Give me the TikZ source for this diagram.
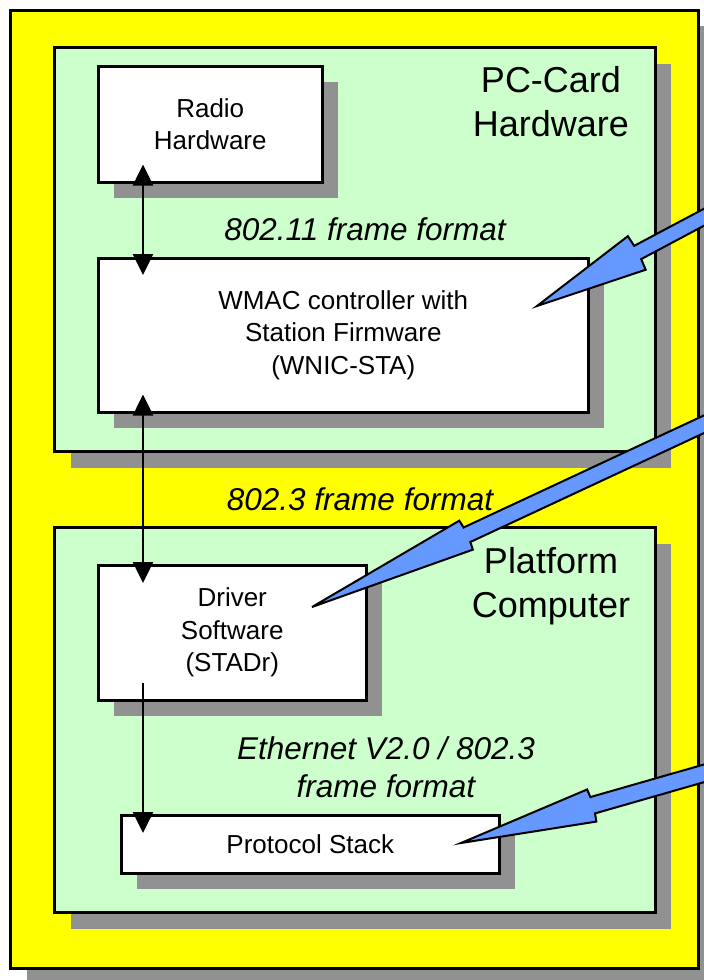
\documentclass[tikz,border=0pt]{standalone}
\usepackage{fontspec}
\setmainfont{Liberation Sans}
\usetikzlibrary{arrows.meta,shadows,calc}

\definecolor{panelyellow}{RGB}{255,255,0}
\definecolor{panelgreen}{RGB}{204,255,204}
\definecolor{shadowgray}{RGB}{145,145,145}
\definecolor{arrowblue}{RGB}{102,153,255}

% Blue block arrow: tip x, tip y, angle, head length, barb half-width, shaft half-width
\newcommand\BlueArrow[6]{%
  \begin{scope}[shift={(#1,#2)},rotate=#3]
    \draw[bluearrow] (0,0) -- (#4,#5) -- (#4+1,#6) -- (520,#6)
      -- (520,-#6) -- (#4+1,-#6) -- (#4,-#5) -- cycle;
  \end{scope}}

\begin{document}
\begin{tikzpicture}[x=1pt,y=-1pt,
  shadowed/.style={drop shadow={shadow xshift=16pt,shadow yshift=-16pt,
      fill=shadowgray,opacity=1}},
  panel/.style={rectangle,draw=black,line width=3pt,inner sep=0pt,
      anchor=north west,shadowed},
  unitbox/.style={rectangle,draw=black,line width=2.5pt,fill=white,inner sep=0pt,
      anchor=north west,align=center,font=\fontsize{26}{32.5}\selectfont,shadowed},
  biglabel/.style={align=center,inner sep=0pt,anchor=base,
      font=\fontsize{36}{43.5}\selectfont},
  framelabel/.style={align=center,inner sep=0pt,anchor=base,
      font=\fontsize{31.5}{38}\selectfont\itshape},
  link/.style={line width=2.5pt,>={Triangle[width=20pt,length=21pt]}},
  bluearrow/.style={draw=black,fill=arrowblue,line width=2pt,line join=miter}]

\useasboundingbox (0,0) rectangle (704,980);

% outer frame
\node[panel,fill=panelyellow,minimum width=688pt,minimum height=958.5pt]
  (outer) at (9,8.5) {};

% PC-Card hardware panel (multi-line labels sit on their last baseline)
\node[panel,fill=panelgreen,minimum width=600.5pt,minimum height=404pt]
  (card) at (53,46) {};
\node[biglabel] (cardlabel) at (551,136) {PC-Card\\Hardware};

% platform computer panel
\node[panel,fill=panelgreen,minimum width=600.5pt,minimum height=385pt]
  (host) at (53,526) {};
\node[biglabel] (hostlabel) at (551,617) {Platform\\Computer};

% functional units
\node[unitbox,minimum width=224pt,minimum height=116pt]
  (radio) at (97,65) {Radio\\Hardware};
\node[unitbox,minimum width=490pt,minimum height=154pt]
  (wmac) at (97,257) {WMAC controller with\\Station Firmware\\(WNIC-STA)};
\node[unitbox,minimum width=268pt,minimum height=135pt]
  (driver) at (97,564) {Driver\\Software\\(STADr)};
\node[unitbox,minimum width=378pt,minimum height=58pt]
  (stack) at (120,814) {Protocol Stack};

% interface labels
\node[framelabel] (f80211) at (365,240) {802.11 frame format};
\node[framelabel] (f8023) at (360,510) {802.3 frame format};
\node[framelabel] (feth) at (386,797) {Ethernet V2.0 / 802.3\\frame format};

% data paths
\draw[link,<->] ($(radio.south west)+(46,-19)$) -- ($(wmac.north west)+(46,18)$);
\draw[link,<->] ($(wmac.south west)+(46,-19)$) -- ($(driver.north west)+(46,19)$);
\draw[link,->] ($(driver.south west)+(46,-19)$) -- ($(stack.north west)+(23,19)$);

% pointers into the units
\BlueArrow{537}{306}{28}{113}{19}{7.5}
\BlueArrow{312}{607}{25}{170}{16}{8}
\BlueArrow{461}{843}{16}{136}{16.7}{8.5}

\end{tikzpicture}
\end{document}
